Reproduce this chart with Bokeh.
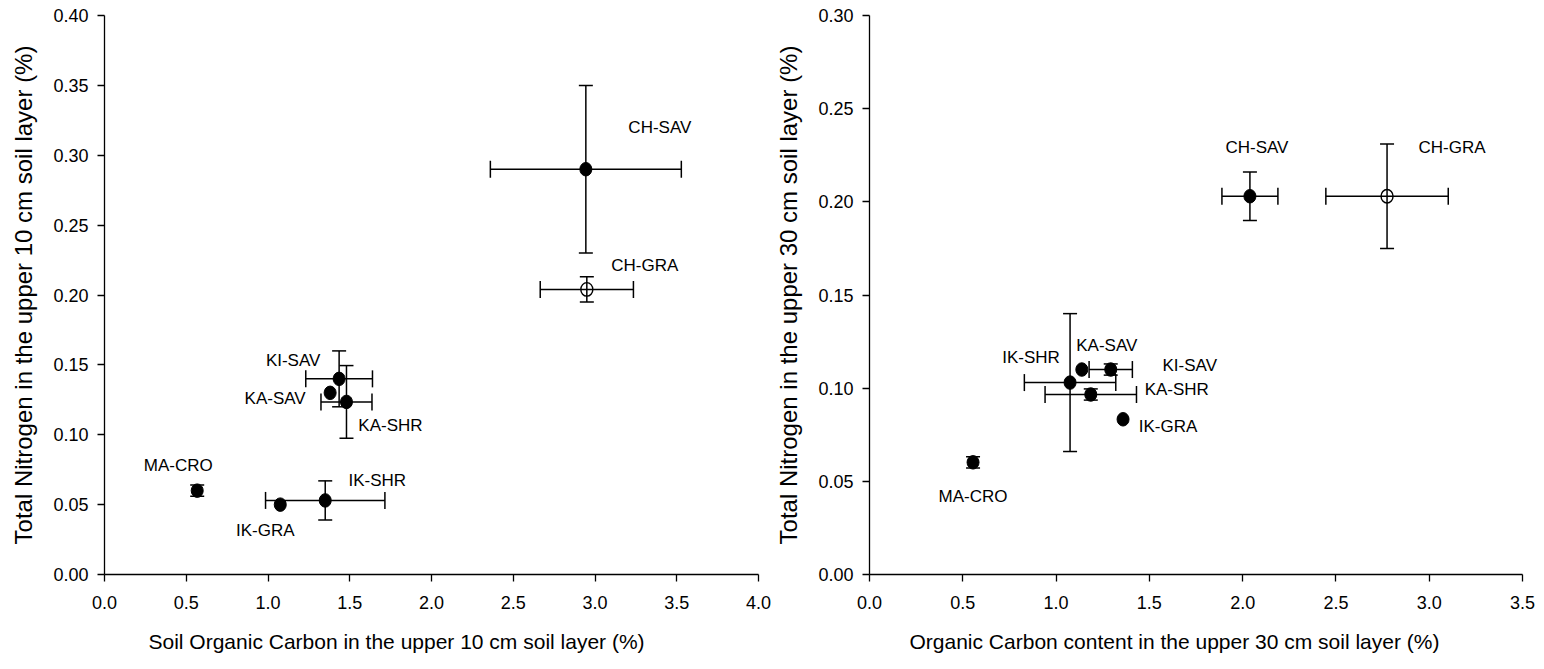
from bokeh.plotting import figure
from bokeh.models import (ColumnDataSource, Whisker, TeeHead, FixedTicker,
                          NumeralTickFormatter, Range1d, Title)
from bokeh.layouts import row
from bokeh.core.properties import value
from bokeh.embed import file_html
from bokeh.resources import INLINE

# ---------------- data: left panel (upper 10 cm) ----------------
sites_10 = ["CH-SAV", "CH-GRA", "KI-SAV", "KA-SAV", "KA-SHR", "IK-SHR", "IK-GRA", "MA-CRO"]
soc_10 = [2.944, 2.950, 1.435, 1.380, 1.480, 1.350, 1.075, 0.567]
soc_10_err = [0.584, 0.285, 0.204, 0.0, 0.156, 0.365, 0.0, 0.0]
tn_10 = [0.290, 0.204, 0.140, 0.130, 0.1235, 0.053, 0.050, 0.060]
tn_10_err = [0.060, 0.009, 0.020, 0.0, 0.026, 0.014, 0.0, 0.004]
open_10 = [False, True, False, False, False, False, False, False]

# ---------------- data: right panel (upper 30 cm) ----------------
sites_30 = ["CH-SAV", "CH-GRA", "IK-SHR", "KA-SAV", "KI-SAV", "KA-SHR", "IK-GRA", "MA-CRO"]
soc_30 = [2.039, 2.774, 1.075, 1.138, 1.293, 1.186, 1.359, 0.555]
soc_30_err = [0.150, 0.328, 0.245, 0.0, 0.116, 0.245, 0.0, 0.0]
tn_30 = [0.203, 0.203, 0.103, 0.110, 0.110, 0.0966, 0.0833, 0.0602]
tn_30_err = [0.013, 0.028, 0.037, 0.0, 0.003, 0.003, 0.0, 0.003]
open_30 = [False, True, False, False, False, False, False, False]

# tick values
x_ticks_10 = [0.0, 0.5, 1.0, 1.5, 2.0, 2.5, 3.0, 3.5, 4.0]
y_ticks_10 = [0.0, 0.05, 0.10, 0.15, 0.20, 0.25, 0.30, 0.35, 0.40]
x_ticks_30 = [0.0, 0.5, 1.0, 1.5, 2.0, 2.5, 3.0, 3.5]
y_ticks_30 = [0.0, 0.05, 0.10, 0.15, 0.20, 0.25, 0.30]

# label placement (screen pixel offsets from each point)
lab_dx_10 = [74, 58, -46, -55, 44, 52, -15, -19]
lab_dy_10 = [-42, -24, -18, 6, 24, -20, 26, -25]
lab_dx_30 = [7, 65, -39, 25, 79, 86, 45, 0]
lab_dy_30 = [-49, -49, -25, -24, -4, -5, 7, 34]

AX_FONT = "Liberation Sans"
LAB_FONT = "Liberation Sans"


def make_panel(sites, xs, xerr, ys, yerr, is_open, dx, dy, xmax, ymax,
               xticks, yticks, xlabel, ylabel, width, bl, br, xlab_offset):
    p = figure(width=width, height=669, output_backend="svg", toolbar_location=None,
               x_range=Range1d(0, xmax), y_range=Range1d(0, ymax),
               min_border_left=bl, min_border_right=br,
               min_border_top=15, min_border_bottom=95)
    p.outline_line_color = None
    p.xgrid.visible = False
    p.ygrid.visible = False
    p.background_fill_color = "white"
    p.border_fill_color = "white"

    for ax in (p.xaxis[0], p.yaxis[0]):
        ax.axis_line_color = "black"
        ax.axis_line_width = 1.3
        ax.major_tick_line_color = "black"
        ax.major_tick_line_width = 1.3
        ax.major_tick_out = 7
        ax.major_tick_in = 0
        ax.minor_tick_line_color = None
        ax.major_label_text_font = AX_FONT
        ax.major_label_text_font_size = "18px"
        ax.major_label_text_color = "black"
        ax.axis_label_text_font = AX_FONT
        ax.axis_label_text_font_style = "normal"
        ax.axis_label_text_color = "black"

    p.yaxis.axis_label_text_font_size = "24px"

    p.xaxis.ticker = FixedTicker(ticks=xticks)
    p.yaxis.ticker = FixedTicker(ticks=yticks)
    p.xaxis.formatter = NumeralTickFormatter(format="0.0")
    p.yaxis.formatter = NumeralTickFormatter(format="0.00")
    p.yaxis.axis_label = ylabel
    p.xaxis.major_label_standoff = 14
    p.yaxis.major_label_standoff = 9
    p.yaxis.axis_label_standoff = 13

    # x-axis title, placed slightly left of centre as in the original
    t = Title(text=xlabel, align="left", offset=xlab_offset,
              text_font=AX_FONT, text_font_size="21px",
              text_font_style="normal", text_color="black", standoff=33)
    p.add_layout(t, "below")

    # error bars
    xe = [i for i in range(len(xs)) if xerr[i] > 0]
    ye = [i for i in range(len(xs)) if yerr[i] > 0]
    src_xe = ColumnDataSource(dict(
        base=[ys[i] for i in xe],
        lower=[xs[i] - xerr[i] for i in xe],
        upper=[xs[i] + xerr[i] for i in xe]))
    src_ye = ColumnDataSource(dict(
        base=[xs[i] for i in ye],
        lower=[ys[i] - yerr[i] for i in ye],
        upper=[ys[i] + yerr[i] for i in ye]))
    for src, dim, hs in ((src_xe, "width", 17), (src_ye, "height", 14)):
        w = Whisker(source=src, base="base", lower="lower", upper="upper",
                    dimension=dim, line_color="black", line_width=1.5,
                    upper_head=TeeHead(size=hs, line_color="black", line_width=1.5),
                    lower_head=TeeHead(size=hs, line_color="black", line_width=1.5),
                    level="glyph")
        p.add_layout(w)

    # markers (slightly tall ellipses as in the original)
    filled = [i for i in range(len(xs)) if not is_open[i]]
    hollow = [i for i in range(len(xs)) if is_open[i]]
    p.ellipse([xs[i] for i in filled], [ys[i] for i in filled],
              width=12, height=13.5, width_units="screen", height_units="screen",
              fill_color="black", line_color="black", level="overlay")
    p.ellipse([xs[i] for i in hollow], [ys[i] for i in hollow],
              width=12, height=13.5, width_units="screen", height_units="screen",
              fill_alpha=0, line_color="black", line_width=1.4, level="overlay")

    # labels
    lsrc = ColumnDataSource(dict(x=xs, y=ys, t=sites, dx=dx, dy=dy))
    p.text(x="x", y="y", text="t", x_offset="dx", y_offset="dy", source=lsrc,
           text_align="center", text_baseline="middle",
           text_font=value(LAB_FONT), text_font_size="17px", text_color="black")
    return p


p1 = make_panel(sites_10, soc_10, soc_10_err, tn_10, tn_10_err, open_10,
                lab_dx_10, lab_dy_10, 4.0, 0.40, x_ticks_10, y_ticks_10,
                "Soil Organic Carbon in the upper 10 cm soil layer (%)",
                "Total Nitrogen in the upper 10 cm soil layer (%)",
                772, 104, 14, 44)
p2 = make_panel(sites_30, soc_30, soc_30_err, tn_30, tn_30_err, open_30,
                lab_dx_30, lab_dy_30, 3.5, 0.30, x_ticks_30, y_ticks_30,
                "Organic Carbon content  in the upper 30 cm soil layer (%)",
                "Total Nitrogen in the upper 30 cm soil layer (%)",
                772, 96, 22, 40)

layout = row(p1, p2)
open("out.html", "w").write(file_html(layout, INLINE))
